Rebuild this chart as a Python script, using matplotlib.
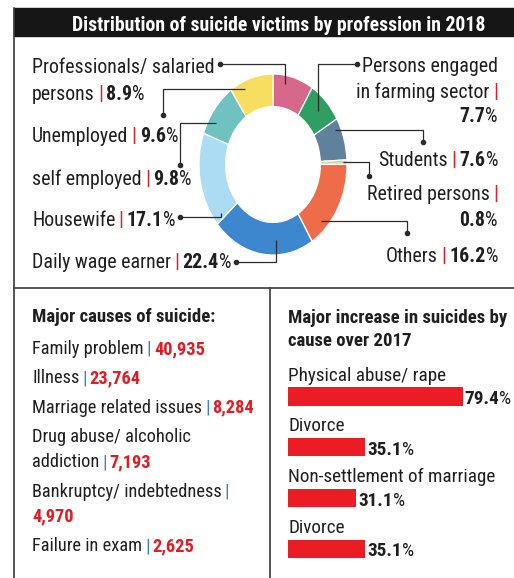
import matplotlib
matplotlib.use("Agg")
import matplotlib.pyplot as plt
from matplotlib import font_manager
from matplotlib.patches import Rectangle
import numpy as np

title = "Distribution of suicide victims by profession in 2018"

professions = ["Professionals/ salaried\npersons", "Persons engaged\nin farming sector",
               "Students", "Retired persons", "Others", "Daily wage earner",
               "Housewife", "self employed", "Unemployed"]
profession_share = [8.9, 7.7, 7.6, 0.8, 16.2, 22.4, 17.1, 9.8, 9.6]
slice_colors = ["#d6698b", "#2f9e63", "#5f819b", "#d9d3a9", "#ef6c4b",
                "#3d87cf", "#acdcf3", "#70c2c1", "#f8de60"]

causes_title = "Major causes of suicide:"
causes = ["Family problem", "Illness", "Marriage related issues",
          "Drug abuse/ alcoholic\naddiction", "Bankruptcy/ indebtedness", "Failure in exam"]
cause_counts = [40935, 23764, 8284, 7193, 4970, 2625]

increase_title = ["Major increase in suicides by", "cause over 2017"]
increase_causes = ["Physical abuse/ rape", "Divorce", "Non-settlement of marriage", "Divorce"]
increase_pct = [79.4, 35.1, 31.1, 35.1]

# ---- fonts
avail = {f.name for f in font_manager.fontManager.ttflist}
font = next(f for f in ["Liberation Sans Narrow", "Roboto Condensed", "DejaVu Sans"] if f in avail)
plt.rcParams["font.family"] = [font, "DejaVu Sans"]
plt.rcParams["font.stretch"] = "condensed"

DARK = "#1f1f1f"
PIPE_RED = "#e31b23"
PIPE_BLUE = "#2f86c6"
NUM_RED = "#e41b23"
BAR_RED = "#ec1c24"
FRAME = "#3a3a3a"
LINE = "#2b2b2b"

W, H = 514, 578
fig = plt.figure(figsize=(W / 100, H / 100), dpi=100)

pie_ax = fig.add_axes([199 / W, 1 - 255 / H, 148 / W, 181 / H])
bar_ax = fig.add_axes([288 / W, 1 - 574.3 / H, 220 / W, 223.5 / H])
ax = fig.add_axes([0, 0, 1, 1])
ax.set_xlim(0, W)
ax.set_ylim(H, 0)
ax.set_axis_off()
R = fig.canvas.get_renderer()


def fit(txt, target, weight="normal"):
    t = ax.text(0, 0, txt, fontsize=15, fontweight=weight)
    w = t.get_window_extent(R).width
    t.remove()
    return 15 * target / w


body = fit("Professionals/ salaried", 182)
low = fit("Marriage related issues", 170)
bars = fit("Physical abuse/ rape", 158)
bold = fit(causes_title, 184, "bold")
tsize = fit(title, 414, "bold")


def make(segs, y, size):
    arts = []
    for s, color, weight, g in segs:
        t = ax.text(0, y, s, color=color, fontweight=weight, fontsize=size, va="baseline")
        arts.append((t, g * size * 100 / 72, t.get_window_extent(R).width))
    return arts


def put(x, y, segs, ha="left", size=body):
    arts = make(segs, y, size)
    total = sum(w + g for _, g, w in arts)
    start = x if ha == "left" else x - total
    cur = start
    for t, g, w in arts:
        cur += g
        t.set_x(cur)
        cur += w
    return start, cur


GAP = 0.16


def pct(v, g):
    return [(f"{v:.1f}", DARK, "bold", g), ("%", DARK, "normal", 0)]


# ---- frame and title bar
ax.add_patch(Rectangle((14, 8), W - 14, 27.5, color="#161616"))
ax.plot([14, 14], [8, H], color=FRAME, lw=1.2)
ax.plot([14, W], [288, 288], color=FRAME, lw=1.2)
ax.plot([270, 270], [288, H], color=FRAME, lw=1.2)
ax.text(279, 31, title, color="white", fontweight="bold", fontsize=tsize,
        ha="center", va="baseline")

# ---- donut
wedges, _ = pie_ax.pie(profession_share, colors=slice_colors, startangle=90,
                       counterclock=False, radius=1,
                       wedgeprops=dict(width=0.36, edgecolor="white", linewidth=0.9))
pie_ax.set_aspect("auto")
pie_ax.set_xlim(-1, 1)
pie_ax.set_ylim(-1, 1)

value_newline = [False, True, False, True, False, False, False, False, False]
label_x = [32, 498, 498, 498, 498, 32, 32, 32, 32]
label_ha = ["left", "right", "right", "right", "right", "left", "left", "left", "left"]
label_base = [[73.3, 100], [71.7, 98.3, 121.7], [166], [200, 226], [261.7],
              [268.3], [226], [185], [141.7]]
# (position within slice, radius, label dot x or side of first line, dot y, elbow)
connectors = [(0.33, 0.9, "right", 64, "h"), (0.5, 0.85, "left", 64, "h"),
              (0.2, 0.92, 423, 142, "v"), (0.5, 0.95, 369, 176, "v"),
              (0.75, 0.9, 407, 233, "v"), (0.36, 0.83, "right", 262, "h"),
              (0.06, 0.88, "right", 217, "h"), (0.3, 0.9, 180, 165, "v"),
              (0.3, 0.92, 163, 115, "v")]

to_main = ax.transData.inverted()
for i, (name, v) in enumerate(zip(professions, profession_share)):
    rows = [[(l, DARK, "normal", 0)] for l in name.split("\n")]
    rows[-1] += [("|", PIPE_RED, "normal", GAP)]
    if value_newline[i]:
        rows.append(pct(v, 0))
    else:
        rows[-1] += pct(v, GAP)
    spans = [put(label_x[i], y, row, label_ha[i]) for row, y in zip(rows, label_base[i])]

    f, r, dx, dy, kind = connectors[i]
    if dx == "right":
        dx = spans[0][1] + 5
    elif dx == "left":
        dx = spans[0][0] - 5
    w = wedges[i]
    a = np.deg2rad(w.theta2 - f * (w.theta2 - w.theta1))
    sx, sy = to_main.transform(pie_ax.transData.transform((r * np.cos(a), r * np.sin(a))))
    if kind == "h":
        xs, ys = [dx, sx, sx], [dy, dy, sy]
    else:
        xs, ys = [dx, dx, sx], [dy, sy, sy]
    ax.plot(xs, ys, color=LINE, lw=0.9, solid_capstyle="butt")
    ax.plot(dx, dy, "o", ms=3, color=LINE)

# ---- major causes list
number_newline = [False, False, False, False, True, False]
ax.text(32, 321.7, causes_title, color=DARK, fontweight="bold", fontsize=bold, va="baseline")
y = 354
for name, c, nl in zip(causes, cause_counts, number_newline):
    lines = name.split("\n")
    for l in lines[:-1]:
        put(32, y, [(l, DARK, "normal", 0)], size=low)
        y += 25.3
    last = [(lines[-1], DARK, "normal", 0), ("|", PIPE_BLUE, "normal", GAP)]
    num = f"{c:,}"
    if nl:
        put(32, y, last, size=low)
        y += 25.3
        put(32, y, [(num, NUM_RED, "bold", 0)], size=low)
    else:
        put(32, y, last + [(num, NUM_RED, "bold", GAP)], size=low)
    y += 29.3

# ---- increase bars
for line, yb in zip(increase_title, [323.3, 346]):
    ax.text(288, yb, line, color=DARK, fontweight="bold", fontsize=bold, va="baseline")

rows = np.arange(len(increase_pct))
bar_ax.barh(rows, increase_pct, height=0.355, color=BAR_RED)
bar_ax.set_xlim(0, 100)
bar_ax.set_ylim(3.5, -0.9)
bar_ax.set_axis_off()
for i, (name, v) in enumerate(zip(increase_causes, increase_pct)):
    bar_ax.text(0, i - 0.315, name, color=DARK, fontsize=bars, va="baseline")
    ex, ey = to_main.transform(bar_ax.transData.transform((v, i)))
    put(ex + 2, ey + 7.5, pct(v, 0), size=bars)

fig.savefig("out.png", dpi=100)
